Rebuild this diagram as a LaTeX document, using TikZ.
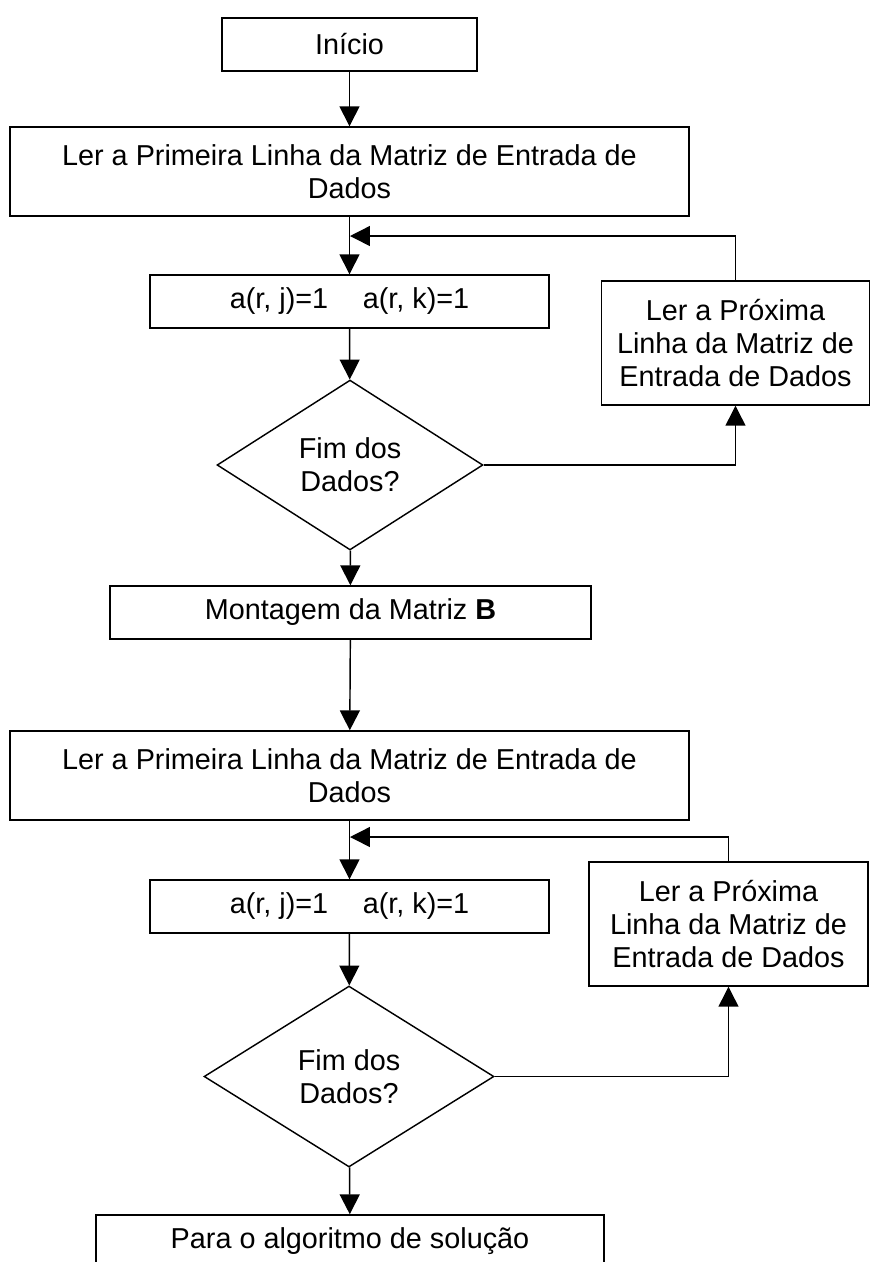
\documentclass[tikz,border=0pt]{standalone}
\usepackage{fontspec}
\setmainfont{Liberation Sans}
\usetikzlibrary{arrows.meta,shapes.geometric}

\begin{document}
\begin{tikzpicture}[
  x=0.41667pt, y=-0.41667pt,
  box/.style={draw, line width=0.6pt, minimum height=22.08pt, align=center, inner sep=2pt, font=\fontsize{12}{13.8}\selectfont},
  wide/.style={box, minimum width=282.9pt, minimum height=37.08pt},
  cond/.style={box, minimum width=166.25pt},
  nextbox/.style={box, minimum height=51.67pt},
  decision/.style={diamond, draw, line width=0.6pt, inner sep=0pt, align=center, font=\fontsize{12}{13.8}\selectfont},
  arrow/.style={-{Triangle[length=8.3pt,width=8.3pt]}, line width=0.6pt}
]
\useasboundingbox (0,0) rectangle (871,1262);
\clip (0,0) rectangle (871,1262);

% first pass
\node[box, minimum width=106.25pt] (inicio) at (349.5,44.5) {Início};
\node[wide] (primeira1) at (349.5,171.5) {Ler a Primeira Linha da Matriz de Entrada de\\Dados};
\node[cond] (cond1) at (349.5,301.5) {a(r, j)=1\hspace{1.2em}a(r, k)=1};
\node[nextbox, minimum width=111.67pt] (proxima1) at (735.5,343) {Ler a Próxima\\Linha da Matriz de\\Entrada de Dados};
\node[decision, minimum width=110.8pt, minimum height=70.8pt] (fim1) at (350,465) {Fim dos\\Dados?};
\node[box, minimum width=200.4pt] (montagem) at (350.5,612.5) {Montagem da Matriz \textbf{B}};

% second pass
\node[wide] (primeira2) at (349.5,775.5) {Ler a Primeira Linha da Matriz de Entrada de\\Dados};
\node[cond] (cond2) at (349.5,906.5) {a(r, j)=1\hspace{1.2em}a(r, k)=1};
\node[nextbox, minimum width=116.25pt] (proxima2) at (728.5,924) {Ler a Próxima\\Linha da Matriz de\\Entrada de Dados};
\node[decision, minimum width=120.8pt, minimum height=75.4pt] (fim2) at (349,1076.5) {Fim dos\\Dados?};
\node[box, minimum width=211.7pt] (para) at (350,1241.5) {Para o algoritmo de solução};

\coordinate (ret1) at (350,236);
\coordinate (ret2) at (350,837);

\draw[arrow] (inicio) -- (primeira1);
\draw[arrow] (primeira1) -- (cond1);
\draw[arrow] (proxima1.north) |- (ret1);
\draw[arrow] (cond1) -- (fim1);
\draw[arrow] (fim1.east) -| (proxima1.south);
\draw[arrow] (fim1) -- (montagem);
\draw[arrow] (montagem) -- (primeira2);
\draw[arrow] (primeira2) -- (cond2);
\draw[arrow] (proxima2.north) |- (ret2);
\draw[arrow] (cond2) -- (fim2);
\draw[arrow] (fim2.east) -| (proxima2.south);
\draw[arrow] (fim2) -- (para);
\end{tikzpicture}
\end{document}
